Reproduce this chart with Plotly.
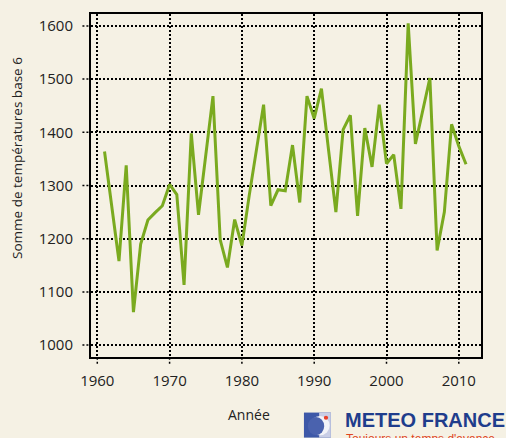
import plotly.graph_objects as go

years = list(range(1961, 2012))
values = [1364, 1260, 1158, 1338, 1062, 1190, 1235, 1249, 1262, 1302,
          1283, 1113, 1398, 1245, 1360, 1468, 1198, 1146, 1236, 1187,
          1280, 1368, 1452, 1262, 1292, 1290, 1376, 1268, 1468, 1426,
          1482, 1365, 1250, 1405, 1432, 1243, 1408, 1335, 1452, 1341,
          1358, 1256, 1605, 1378, 1440, 1502, 1178, 1250, 1415, 1374,
          1340]
x_ticks = [1960, 1970, 1980, 1990, 2000, 2010]
y_ticks = [1000, 1100, 1200, 1300, 1400, 1500, 1600]
y_title = "Somme de températures base 6"
x_title = "Année"

BG = "#F5F1E4"
FONT = "Open Sans"

fig = go.Figure()
fig.add_trace(go.Scatter(x=years, y=values, mode="lines",
                         line=dict(color="#7AAA1F", width=3),
                         showlegend=False, hoverinfo="x+y"))

shapes = []
# dotted tick extensions outside the frame
for t in x_ticks:
    shapes.append(dict(type="line", xref="x", yref="paper", x0=t, x1=t,
                       y0=-0.02, y1=0, line=dict(color="black", width=1.5, dash="2px,2px")))
for t in y_ticks:
    shapes.append(dict(type="line", xref="paper", yref="y", x0=-0.022, x1=0,
                       y0=t, y1=t, line=dict(color="black", width=1.5, dash="2px,2px")))
# logo icon
shapes.append(dict(type="rect", xref="paper", yref="paper", x0=0.546, x1=0.615,
                   y0=-0.235, y1=-0.162, line=dict(width=0), fillcolor="#3D58A8", layer="above"))
shapes.append(dict(type="rect", xref="paper", yref="paper", x0=0.585, x1=0.615,
                   y0=-0.235, y1=-0.162, line=dict(width=0), fillcolor="#C9CEE6", layer="above"))
shapes.append(dict(type="circle", xref="paper", yref="paper", x0=0.562, x1=0.612,
                   y0=-0.228, y1=-0.172, line=dict(width=0), fillcolor="#F2F3F8", layer="above"))
shapes.append(dict(type="circle", xref="paper", yref="paper", x0=0.556, x1=0.598,
                   y0=-0.228, y1=-0.175, line=dict(width=0), fillcolor="#4A62AE", layer="above"))
shapes.append(dict(type="circle", xref="paper", yref="paper", x0=0.597, x1=0.608,
                   y0=-0.183, y1=-0.171, line=dict(width=0), fillcolor="#E8412A", layer="above"))

annotations = [
    dict(text=y_title, xref="paper", yref="paper", x=-0.19, y=0.58, textangle=-90,
         showarrow=False, font=dict(family=FONT, size=13.5, color="#222"),
         xanchor="center", yanchor="middle"),
    dict(text=x_title, xref="paper", yref="paper", x=0.405, y=-0.168,
         showarrow=False, font=dict(family=FONT, size=14, color="#222"),
         xanchor="center", yanchor="middle"),
    dict(text="<b>METEO FRANCE</b>", xref="paper", yref="paper", x=0.645, y=-0.183,
         showarrow=False, font=dict(family="Liberation Sans", size=20, color="#1F3D8C"),
         xanchor="left", yanchor="middle"),
    dict(text="Toujours un temps d'avance", xref="paper", yref="paper", x=0.648, y=-0.212,
         showarrow=False, font=dict(family="Liberation Sans", size=12, color="#E0451E"),
         xanchor="left", yanchor="top"),
]

axis_common = dict(showline=True, linecolor="black", linewidth=2, mirror=True,
                   showgrid=True, gridcolor="black", gridwidth=1.5, griddash="2px,2px",
                   zeroline=False, ticks="outside", tickcolor="rgba(0,0,0,0)",
                   tickfont=dict(family=FONT, size=15, color="#222"))

fig.update_layout(
    width=506, height=438,
    margin=dict(l=91, r=25, t=12, b=81),
    paper_bgcolor=BG, plot_bgcolor=BG,
    xaxis=dict(range=[1959.13, 2013.07], tickvals=x_ticks, ticklen=9, **axis_common),
    yaxis=dict(range=[977.6, 1622.4], tickvals=y_ticks, ticklen=13, **axis_common),
    shapes=shapes, annotations=annotations,
)

# remove the default page margin so the figure fills the window
fig.write_html("out.html",
               config={"displayModeBar": False},
               post_script="document.body.style.margin='0';"
                           "document.body.style.background='" + BG + "';"
                           "document.body.style.overflow='hidden';")
